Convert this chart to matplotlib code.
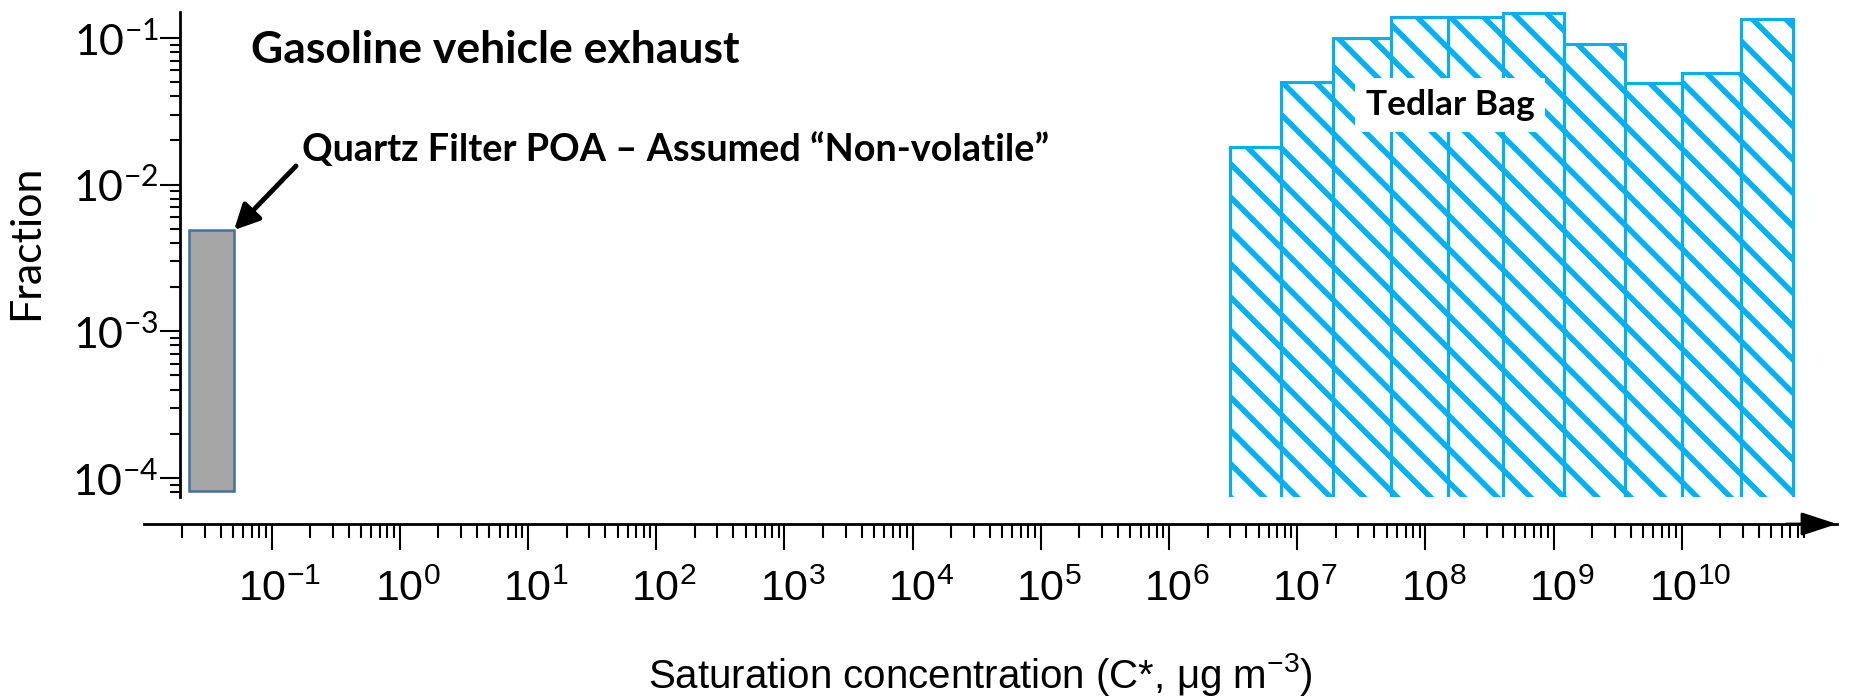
import numpy as np
import matplotlib
matplotlib.use('Agg')
import matplotlib.pyplot as plt
from matplotlib import ticker, transforms

# Quartz filter POA, one "non-volatile" bin
poa_edges = [0.0227, 0.051]
poa_fraction = [0.0049]
poa_bottom = 8.1e-5

# Tedlar bag volatility bins (C*, ug m-3)
bag_edges = [3.0e6, 7.5e6, 1.9e7, 5.4e7, 1.5e8, 4.0e8, 1.2e9, 3.6e9, 1.0e10, 2.9e10, 7.4e10]
bag_fraction = [0.018, 0.050, 0.100, 0.140, 0.140, 0.148, 0.091, 0.049, 0.058, 0.135]
bag_bottom = 7.0e-5

x_exp = list(range(-1, 11))
y_exp = [-4, -3, -2, -1]
x_major = [10.0**e for e in x_exp]
y_major = [10.0**e for e in y_exp]
x_labels = [r'$\mathregular{10^{%d}}$' % e for e in x_exp]
y_labels = [r'$\mathregular{10^{%d}}$' % e for e in y_exp]
x_minor = [m * 10.0**e for e in range(-2, 11) for m in range(2, 10)]

blue = '#00B0F0'
plt.rcParams['hatch.color'] = blue
plt.rcParams['hatch.linewidth'] = 4.0

W, H = 1851, 697
fig = plt.figure(figsize=(W / 100, H / 100), dpi=100)
ax = fig.add_axes([144 / W, 1 - 497 / H, (1837 - 144) / W, (497 - 12) / H])
ax.set_xscale('log')
ax.set_yscale('log')
ax.set_xlim(10**-1.995, 10**11.21)
ax.set_ylim(10**-4.13, 10**-0.823)

# bars
ax.bar(poa_edges[0], poa_fraction[0] - poa_bottom, width=poa_edges[1] - poa_edges[0],
       bottom=poa_bottom, align='edge', color='#A6A6A6', edgecolor='#41719C', linewidth=1.8)
left = np.array(bag_edges[:-1])
ax.bar(left, np.array(bag_fraction) - bag_bottom, width=np.diff(bag_edges), bottom=bag_bottom,
       align='edge', facecolor='white', edgecolor=blue, linewidth=2.2, hatch='\\')

# axes styling
ax.spines['top'].set_visible(False)
ax.spines['right'].set_visible(False)
ax.spines['left'].set_position(('axes', (180 - 144) / (1837 - 144)))
ax.spines['bottom'].set_position(('outward', 27 * 0.72))
ax.spines['left'].set_linewidth(2)
ax.spines['bottom'].set_linewidth(2)

ax.set_xticks(x_major, labels=x_labels, fontfamily='Liberation Sans', fontsize=31)
ax.xaxis.set_minor_locator(ticker.FixedLocator(x_minor))
ax.xaxis.set_minor_formatter(ticker.NullFormatter())
ax.set_yticks(y_major, labels=y_labels, fontfamily='Lato', fontsize=31)
ax.yaxis.set_minor_locator(ticker.LogLocator(subs=np.arange(2, 10), numticks=20))
ax.yaxis.set_minor_formatter(ticker.NullFormatter())
ax.tick_params(axis='x', which='major', direction='out', length=18.7, width=1.5, pad=14)
ax.tick_params(axis='x', which='minor', direction='out', length=10, width=1.5)
ax.tick_params(axis='y', which='major', direction='out', length=14.4, width=1.5, pad=1)
ax.tick_params(axis='y', which='minor', direction='out', length=7.2, width=1.5)

# nudge x tick labels right so "10^n" sits centred on its tick
shift = transforms.ScaledTranslation(8 / 100, 0, fig.dpi_scale_trans)
for lbl in ax.get_xticklabels():
    lbl.set_transform(lbl.get_transform() + shift)

# arrow head at the end of the x axis
trans = ax.transAxes + transforms.ScaledTranslation(0, -27 / 100, fig.dpi_scale_trans)
ax.annotate('', xy=(1, 0), xycoords=trans, xytext=(0.97, 0), textcoords=trans,
            arrowprops=dict(arrowstyle='-|>,head_length=2.2,head_width=0.72', mutation_scale=10,
                            color='black', lw=2, shrinkA=0, shrinkB=0),
            annotation_clip=False)

# texts
fig.text(251 / W, 1 - 50 / H, 'Gasoline vehicle exhaust', fontfamily='Lato', fontweight='bold',
         fontsize=32, va='center', ha='left')
fig.text(302 / W, 1 - 150 / H, 'Quartz Filter POA \u2013 Assumed \u201cNon-volatile\u201d',
         fontfamily='Lato', fontweight='bold', fontsize=27.3, va='center', ha='left')
ax.annotate('', xy=(poa_edges[1], poa_fraction[0]), xycoords='data',
            xytext=(296 / W, 1 - 166 / H), textcoords='figure fraction',
            arrowprops=dict(arrowstyle='-|>,head_length=1.5,head_width=0.75', mutation_scale=10,
                            lw=3.5, color='black', shrinkA=0, shrinkB=0))
ax.text(0.7714, 0.808, 'Tedlar Bag', transform=ax.transAxes, fontfamily='Lato', fontweight='bold',
        fontsize=25.5, ha='center', va='center',
        bbox=dict(boxstyle='square,pad=0.3', facecolor='white', edgecolor='none'))

fig.text(980 / W, 1 - 674 / H, 'Saturation concentration (C*, \u03bcg m$\\mathregular{^{-3}}$)',
         fontfamily='Liberation Sans', fontsize=29, ha='center', va='center')
fig.text(26 / W, 1 - 242 / H, 'Fraction', fontfamily='Lato', fontsize=31, rotation=90,
         ha='center', va='center')

fig.savefig('out.png', dpi=100)
